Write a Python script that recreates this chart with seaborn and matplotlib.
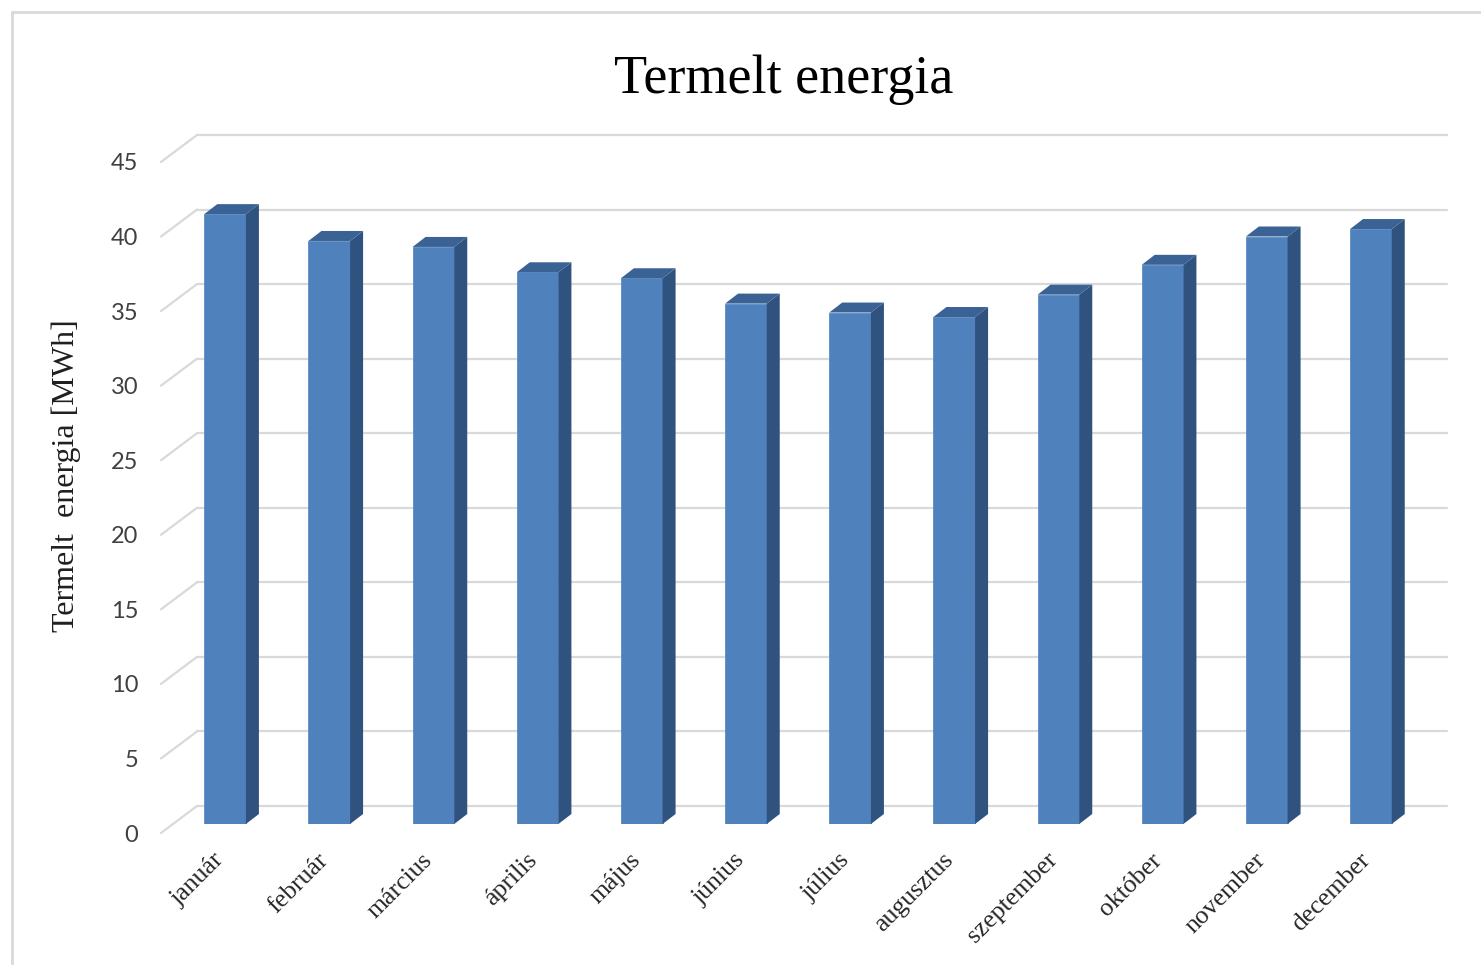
import matplotlib
matplotlib.use("Agg")
import matplotlib.pyplot as plt
import matplotlib.transforms as mtrans
from matplotlib.lines import Line2D
import seaborn as sns
import pandas as pd

months = ["január", "február", "március", "április", "május", "június",
          "július", "augusztus", "szeptember", "október", "november", "december"]
energy = [40.9, 39.1, 38.7, 37.0, 36.6, 34.9, 34.3, 34.0, 35.5, 37.5, 39.4, 39.9]
yticks = [0, 5, 10, 15, 20, 25, 30, 35, 40, 45]
title = "Termelt energia"
ylabel = "Termelt  energia [MWh]"

W, H, DPI = 1481, 965, 100
sns.set_theme(style="white")
plt.rcParams["font.family"] = ["Liberation Serif", "DejaVu Serif"]

fig = plt.figure(figsize=(W / DPI, H / DPI), dpi=DPI)
fig.patch.set_facecolor("white")

# bar plane axes
ax_left, ax_bottom = 173, H - 824
ax_w, ax_h = 1250, 671
ax = fig.add_axes([ax_left / W, ax_bottom / H, ax_w / W, ax_h / H])
ax.patch.set_visible(False)

df = pd.DataFrame({"month": months, "energy": energy})
sns.barplot(data=df, x="month", y="energy", order=months, color="#4F81BD",
            saturation=1, width=0.4, ax=ax, zorder=3,
            edgecolor="#5A8CC6", linewidth=0.6)

ax.set_xlim(-0.5, len(months) - 0.5)
ax.set_ylim(0, 45)
for s in ax.spines.values():
    s.set_visible(False)

px = lambda v: v / DPI
def offset(dx, dy):
    return mtrans.ScaledTranslation(px(dx), px(dy), fig.dpi_scale_trans)

# back wall gridlines + floor diagonals
grid_c = "#D9D9D9"
wall = ax.get_yaxis_transform() + offset(24, 18)
for v in yticks:
    ax.add_line(Line2D([0, 1], [v, v], transform=wall, color=grid_c, lw=1.6,
                       zorder=0.5, clip_on=False))
    d0 = ax.transData.transform((0, v))
    xa = ax.transAxes.transform((0, 0))[0]
    ax.add_line(Line2D([xa - 12, xa + 24], [d0[1] - 9, d0[1] + 18],
                       transform=None, color=grid_c, lw=1.6, zorder=0.5,
                       clip_on=False))

# 3D faces on the bars
bar_px_per_cat = ax_w / len(months)
ddx = 13 / bar_px_per_cat
ddy = 10 / (ax_h / 45)
for p in list(ax.patches):
    x0, w, h = p.get_x(), p.get_width(), p.get_height()
    x1 = x0 + w
    ax.fill([x1, x1 + ddx, x1 + ddx, x1], [0, ddy, h + ddy, h],
            color="#30527F", lw=0, zorder=3)
    ax.fill([x0, x0 + ddx, x1 + ddx, x1], [h, h + ddy, h + ddy, h],
            color="#3B6295", lw=0, zorder=3)

# ticks
ax.set_yticks(yticks)
ax.set_xlabel("")
ax.set_ylabel("")
ax.tick_params(axis="y", length=0, pad=25, labelsize=17, labelcolor="#404040")
ax.tick_params(axis="x", length=0, pad=18, labelsize=18.5, labelcolor="#262626")
for lab in ax.get_yticklabels():
    lab.set_fontfamily(["Lato", "DejaVu Sans"])
    lab.set_transform(lab.get_transform() + offset(0, -9))
for lab in ax.get_xticklabels():
    lab.set_fontfamily(["Liberation Serif", "DejaVu Serif"])
    lab.set_rotation(45)
    lab.set_ha("right")
    lab.set_va("top")
    lab.set_rotation_mode("anchor")
    lab.set_transform(lab.get_transform() + offset(-12, 0))

# title and y label
fig.text(784 / W, 1 - 80 / H, title, ha="center", va="center", fontsize=39,
         color="black")
fig.text(66 / W, 1 - 476 / H, ylabel, ha="center", va="center", rotation=90,
         fontsize=23, color="#1f1f1f")

# chart border
bc = "#D9D9D9"
fig.add_artist(Line2D([12 / W, 1], [1 - 12 / H, 1 - 12 / H], transform=fig.transFigure,
                      color=bc, lw=2))
fig.add_artist(Line2D([12 / W, 12 / W], [0, 1 - 12 / H], transform=fig.transFigure,
                      color=bc, lw=2))

fig.savefig("out.png", dpi=DPI)
